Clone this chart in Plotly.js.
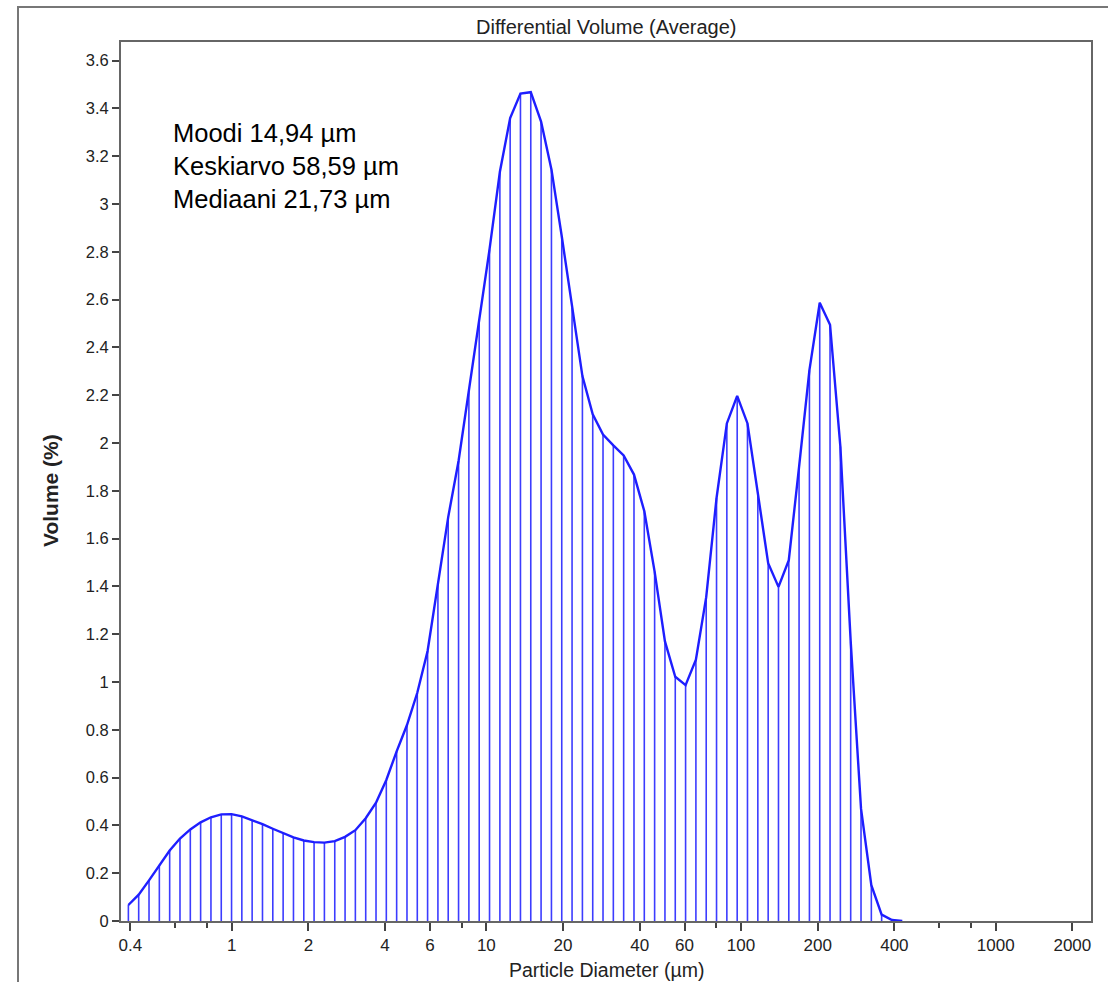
<!DOCTYPE html>
<html>
<head>
<meta charset="utf-8">
<script src="https://cdn.plot.ly/plotly-3.0.1.min.js"></script>
<style>
  html, body { margin: 0; padding: 0; background: #fff; }
  #wrap { position: relative; width: 1108px; height: 982px; }
  #chart { position: absolute; left: 0; top: 0; width: 1108px; height: 982px; }
  #frame { position: absolute; left: 17px; top: 6px; width: 1091px; height: 976px;
           border-left: 2px solid #777; border-top: 2px solid #777; pointer-events: none; }
</style>
</head>
<body>
<div id="wrap">
  <div id="chart"></div>
  <div id="frame"></div>
</div>
<script>
// Channel diameters (µm) and differential volume (%)
const diameters = [0.3929,0.4313,0.4735,0.5198,0.5707,0.6265,0.6878,0.7550,0.8289,0.9099,
  0.9986,1.096,1.203,1.321,1.450,1.592,1.748,1.919,2.106,2.312,
  2.539,2.787,3.059,3.359,3.687,4.047,4.443,4.878,5.355,5.878,
  6.453,7.082,7.777,8.538,9.372,10.29,11.30,12.40,13.61,14.94,
  16.40,18.01,19.77,21.70,23.83,26.16,28.71,31.52,34.60,37.99,
  41.70,45.78,50.26,55.17,60.57,66.49,72.99,80.13,87.96,96.57,
  106.0,116.4,127.8,140.3,154.0,169.0,185.6,203.7,223.6,245.5,
  269.5,295.9,324.8,356.5,391.4,429.7];
const volumes = [0.067,0.11,0.17,0.235,0.295,0.345,0.383,0.413,0.434,0.446,
  0.447,0.438,0.423,0.405,0.386,0.367,0.350,0.337,0.330,0.328,
  0.334,0.352,0.380,0.430,0.495,0.59,0.71,0.82,0.955,1.13,
  1.41,1.69,1.925,2.22,2.505,2.81,3.135,3.36,3.462,3.468,
  3.345,3.145,2.865,2.565,2.28,2.12,2.035,1.99,1.948,1.868,
  1.715,1.462,1.17,1.022,0.987,1.093,1.355,1.77,2.082,2.197,
  2.082,1.79,1.497,1.398,1.51,1.90,2.305,2.587,2.495,1.985,
  1.17,0.47,0.15,0.027,0.004,0];

const xTickVals = [0.4,1,2,4,6,10,20,40,60,100,200,400,1000,2000];
const xTickText = ["0.4","1","2","4","6","10","20","40","60","100","200","400","1000","2000"];
const xMinorVals = [0.6,0.8,8,80,600,800];

const chartTitle = "Differential Volume (Average)";
const xTitle = "Particle Diameter (µm)";
const yTitle = "Volume (%)";
const statsLines = ["Moodi 14,94 µm","Keskiarvo 58,59 µm","Mediaani 21,73 µm"];

const blue = "rgb(30,30,255)";
const font = "Liberation Sans, Arial, sans-serif";

const trace = {
  x: diameters,
  y: volumes,
  type: "scatter",
  mode: "lines",
  line: {color: blue, width: 2.4},
  error_y: {
    type: "data",
    symmetric: false,
    array: volumes.map(() => 0),
    arrayminus: volumes,
    width: 0,
    thickness: 1.6,
    color: "rgb(60,60,255)"
  },
  hoverinfo: "skip",
  showlegend: false
};

const layout = {
  width: 1108, height: 982,
  margin: {l: 121, r: 17, t: 42, b: 61},
  paper_bgcolor: "rgba(0,0,0,0)",
  plot_bgcolor: "#fff",
  font: {family: font, size: 17, color: "#222"},
  showlegend: false,
  xaxis: {
    type: "log",
    range: [-0.4347, 3.3742],
    tickmode: "array",
    tickvals: xTickVals,
    ticktext: xTickText,
    ticks: "outside", ticklen: 8, tickwidth: 2, tickcolor: "#444",
    minor: {tickmode: "array", tickvals: xMinorVals, ticks: "outside", ticklen: 5, tickwidth: 2, tickcolor: "#444", showgrid: false},
    showgrid: false, zeroline: false,
    showline: true, linecolor: "#666", linewidth: 2, mirror: true,
    tickfont: {family: font, size: 17, color: "#222"}
  },
  yaxis: {
    range: [0, 3.678],
    tickmode: "linear", tick0: 0, dtick: 0.2,
    ticks: "outside", ticklen: 7, tickwidth: 2, tickcolor: "#444",
    showgrid: false, zeroline: false,
    showline: true, linecolor: "#666", linewidth: 2, mirror: true,
    tickfont: {family: font, size: 16.5, color: "#222"}
  },
  annotations: [
    {xref: "paper", yref: "paper", x: 0.501, y: 1.0171, text: chartTitle, showarrow: false,
     xanchor: "center", yanchor: "middle", font: {family: font, size: 20, color: "#222"}},
    {xref: "paper", yref: "paper", x: 0.501, y: -0.0557, text: xTitle, showarrow: false,
     xanchor: "center", yanchor: "middle", font: {family: font, size: 19.5, color: "#222"}},
    {xref: "paper", yref: "paper", x: -0.0732, y: 0.4903, text: "<b>" + yTitle + "</b>", showarrow: false,
     textangle: -90, xanchor: "center", yanchor: "middle", font: {family: font, size: 21, color: "#222"}},
    {xref: "paper", yref: "paper", x: 0.0515, y: 0.9147, text: statsLines.join("<br>"), showarrow: false,
     xanchor: "left", yanchor: "top", align: "left", font: {family: font, size: 25.5, color: "#000"}}
  ]
};

Plotly.newPlot("chart", [trace], layout, {displayModeBar: false, staticPlot: true});
</script>
</body>
</html>
